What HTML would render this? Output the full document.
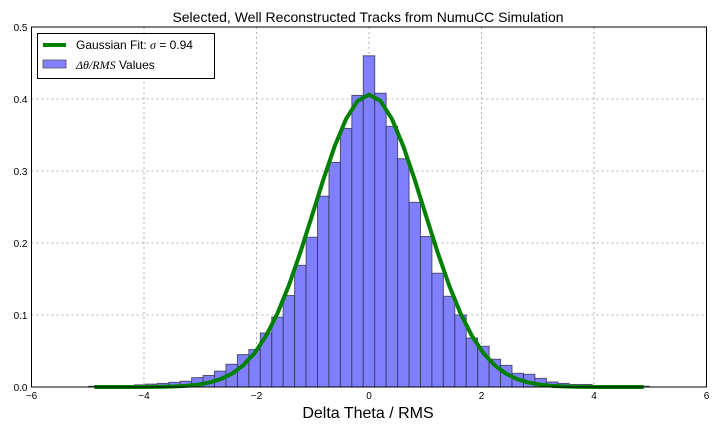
<!DOCTYPE html>
<html><head><meta charset="utf-8"><style>
body{margin:0;background:#fff;}
svg{display:block;font-family:"Liberation Sans",sans-serif;}
</style></head><body>
<svg id="c" width="720" height="432" viewBox="0 0 720 432">
<rect width="720" height="432" fill="#fff"/>
<g id="grid"></g><g id="bars"></g><g id="curve"></g><g id="axes"></g>
<text x="368" y="22" text-anchor="middle" font-size="14">Selected, Well Reconstructed Tracks from NumuCC Simulation</text>
<text x="368" y="418" text-anchor="middle" font-size="16">Delta Theta / RMS</text>
<g>
<rect x="37.5" y="33.5" width="177" height="45" fill="#fff" stroke="#000"/>
<line x1="43" y1="45" x2="66" y2="45" stroke="#008000" stroke-width="4"/>
<text x="76" y="49" font-size="12">Gaussian Fit: <tspan font-family="Liberation Serif" font-style="italic">σ</tspan> = 0.94</text>
<rect x="43" y="60" width="23" height="8" fill="#8080ff" stroke="#555" stroke-width="0.8"/>
<text x="76" y="69" font-size="12"><tspan font-family="Liberation Serif" font-style="italic">Δθ/RMS</tspan> Values</text>
</g>
</svg>
<script>
const binWidth = 0.2034;
const binIndex = [-24,-23,-22,-21,-20,-19,-18,-17,-16,-15,-14,-13,-12,-11,-10,-9,-8,-7,-6,-5,-4,-3,-2,-1,0,1,2,3,4,5,6,7,8,9,10,11,12,13,14,15,16,17,18,19,20,21,22,23,24];
const counts = [0.001,0.001,0.001,0.002,0.003,0.004,0.005,0.0065,0.008,0.013,0.016,0.022,0.0315,0.045,0.052,0.075,0.097,0.127,0.169,0.208,0.265,0.312,0.359,0.405,0.46,0.408,0.362,0.317,0.2565,0.209,0.158,0.126,0.1,0.068,0.0565,0.0385,0.030,0.019,0.0176,0.012,0.007,0.005,0.0035,0.0035,0.002,0.001,0.001,0.001,0.001];
const fitSigma = 0.98;
const fitAmp = 0.406;
const xTicks = [-6,-4,-2,0,2,4,6];
const yTicks = [0.0,0.1,0.2,0.3,0.4,0.5];
const NS="http://www.w3.org/2000/svg";
const L=31.5,R=706.5,T=27,B=387;
const sx=v=>L+(v+6)/12*(R-L);
const sy=v=>B-v/0.5*(B-T);
function mk(tag,attrs,parent){const e=document.createElementNS(NS,tag);for(const k in attrs)e.setAttribute(k,attrs[k]);parent.appendChild(e);return e;}
const grid=document.getElementById('grid'),bars=document.getElementById('bars'),curve=document.getElementById('curve'),axes=document.getElementById('axes');
xTicks.forEach(t=>{
  const g=mk('line',{x1:sx(t),x2:sx(t),y1:T,y2:B,stroke:'#b0b0b0','stroke-dasharray':'2,3','stroke-width':1},grid);
  
  
  const tx=mk('text',{x:sx(t),y:B+12,'text-anchor':'middle','font-size':10},axes);
  tx.textContent=(t<0?'\u2212':'')+Math.abs(t);
  
  
});
yTicks.forEach(t=>{
  const g=mk('line',{x1:L,x2:R,y1:sy(t),y2:sy(t),stroke:'#b0b0b0','stroke-dasharray':'2,3','stroke-width':1},grid);
  
  
  const tx=mk('text',{x:L-4,y:sy(t)+4,'text-anchor':'end','font-size':10},axes);
  tx.textContent=t.toFixed(1);
  
  
});
binIndex.forEach((k,i)=>{
  const c=k*binWidth;
  const x0=sx(c-binWidth/2),x1=sx(c+binWidth/2);
  const r=mk('rect',{x:x0,y:sy(counts[i]),width:x1-x0,height:B-sy(counts[i]),fill:'#8080ff',stroke:'#333355','stroke-opacity':0.8,'stroke-width':1},bars);
  
  
});
const pts=binIndex.map(k=>{const x=k*binWidth;return sx(x).toFixed(2)+','+sy(fitAmp*Math.exp(-x*x/(2*fitSigma*fitSigma))).toFixed(2);});
const pl=mk('polyline',{points:pts.join(' '),fill:'none',stroke:'#008000','stroke-width':4,'stroke-linejoin':'round'},curve);


const fr=mk('rect',{x:L,y:T,width:R-L,height:B-T,fill:'none',stroke:'#000','stroke-width':1},axes);


</script>
</body></html>
